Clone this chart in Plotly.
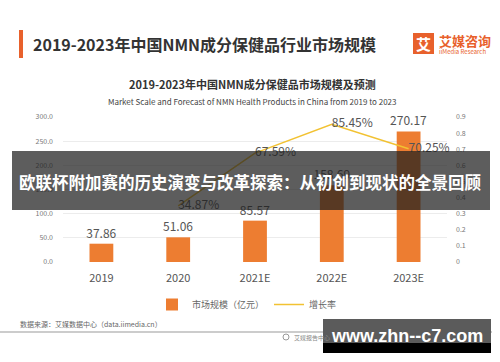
import plotly.graph_objects as go

# ---- data ----
categories = ["2019", "2020", "2021E", "2022E", "2023E"]
market_size = [37.86, 51.06, 85.57, 158.69, 270.17]
growth_categories = ["2020", "2021E", "2022E", "2023E"]
growth_rate = [0.3487, 0.6759, 0.8545, 0.7025]
left_ticks = [0, 50, 100, 150, 200, 250, 300]
right_ticks = [0, 0.1, 0.2, 0.3, 0.4, 0.5, 0.6, 0.7, 0.8, 0.9]

W, H = 500, 362
L, R, T, B = 63, 53, 117, 100
PW, PH = W - L - R, H - T - B

def px(x):
    return (x - L) / PW

def py(y):
    return (H - B - y) / PH

FONT = "Noto Sans CJK SC"
ORANGE = "#ED7D31"
GOLD = "#F2C232"

fig = go.Figure()
fig.add_trace(go.Bar(
    x=categories, y=market_size, name="市场规模（亿元）",
    marker=dict(color=ORANGE, line=dict(width=0)), width=0.31,
    texttemplate="%{y:.2f}", textposition="outside", constraintext="none",
    textfont=dict(size=12, color="#555", family=FONT), cliponaxis=False,
))
fig.add_trace(go.Scatter(
    x=growth_categories, y=growth_rate, yaxis="y2", name="增长率",
    mode="lines+text", line=dict(color=GOLD, width=1.5),
    texttemplate="%{y:.2%}", textposition="middle right",
    textfont=dict(size=12, color="#555", family=FONT), cliponaxis=False,
))

shapes = []
annotations = []

def rect(x0, y0, x1, y1, color, layer="above"):
    shapes.append(dict(type="rect", xref="paper", yref="paper",
                       x0=px(x0), x1=px(x1), y0=py(y1), y1=py(y0),
                       fillcolor=color, line=dict(width=0), layer=layer))

def text(x, y, s, size, color, xanchor="center", bold=False, family=FONT):
    annotations.append(dict(xref="paper", yref="paper", x=px(x), y=py(y),
                            text=f"<b>{s}</b>" if bold else s, showarrow=False,
                            xanchor=xanchor, yanchor="middle",
                            font=dict(size=size, color=color, family=family)))

# header
rect(19, 30, 23, 58, "#E8612C")
text(31, 44, "2019-2023年中国NMN成分保健品行业市场规模", 16, "#333", xanchor="left", bold=True)
rect(413, 33, 434, 54, "#E8612C")
text(423.5, 43.5, "艾", 15, "white", bold=True)
text(437, 40, "艾媒咨询", 13, "#E8612C", xanchor="left", bold=True)
text(437, 51.5, "iiMedia Research", 6, "#E8612C", xanchor="left")

# chart titles
text(252, 84, "2019-2023年中国NMN成分保健品市场规模及预测", 11, "#333", bold=True)
text(252, 101, "Market Scale and Forecast of NMN Health Products in China from 2019 to 2023", 8, "#444")

# footer
text(18, 324, "数据来源：艾媒数据中心（data.iimedia.cn）", 7, "#666", xanchor="left")
shapes.append(dict(type="line", xref="paper", yref="paper", x0=px(0), x1=px(492),
                   y0=py(332), y1=py(332), line=dict(color="#bbb", width=1.5)))
shapes.append(dict(type="circle", xref="paper", yref="paper", x0=px(283), x1=px(289),
                   y0=py(340), y1=py(334), line=dict(color="#999", width=1)))
text(292, 337, "艾媒报告中心", 6, "#888", xanchor="left")

# overlay band
rect(12, 151, 490, 210, "rgba(30,30,30,0.72)")
text(250, 182, "欧联杯附加赛的历史演变与改革探索：从初创到现状的全景回顾", 16.5, "white", bold=True)

# watermark
rect(323, 319, 491, 343, "#5b5b5b")
rect(323, 343, 491, 353, "#000000")
text(407, 336, "www.zhn--c7.com", 18, "white", bold=True, family="Liberation Sans")

fig.update_layout(
    width=W, height=H, autosize=False,
    margin=dict(l=L, r=R, t=T, b=B, autoexpand=False),
    paper_bgcolor="white", plot_bgcolor="white",
    font=dict(family=FONT, color="#555"),
    xaxis=dict(type="category", categoryorder="array", categoryarray=categories,
               showgrid=False, showline=False, zeroline=False, ticks="",
               tickfont=dict(size=11, color="#555"), ticklabelstandoff=8),
    yaxis=dict(range=[0, 300], tickvals=left_ticks, tickformat=".1f",
               showgrid=True, gridcolor="#ececec", gridwidth=1, zeroline=False,
               showline=False, ticks="", tickfont=dict(size=7, color="#777"),
               ticklabelstandoff=9, automargin=False),
    yaxis2=dict(range=[0, 0.9], tickvals=right_ticks, overlaying="y", side="right",
                showgrid=False, zeroline=False, showline=False, ticks="",
                tickfont=dict(size=7, color="#777"), ticklabelstandoff=8, automargin=False),
    legend=dict(orientation="h", x=px(247), xanchor="center", y=py(290), yanchor="top",
                font=dict(size=9, color="#666"), itemwidth=30, bgcolor="rgba(0,0,0,0)"),
    showlegend=True,
    shapes=shapes, annotations=annotations,
)

fig.write_html("out.html", config={"displayModeBar": False},
               post_script="document.body.style.margin='0';document.body.style.padding='0';")
